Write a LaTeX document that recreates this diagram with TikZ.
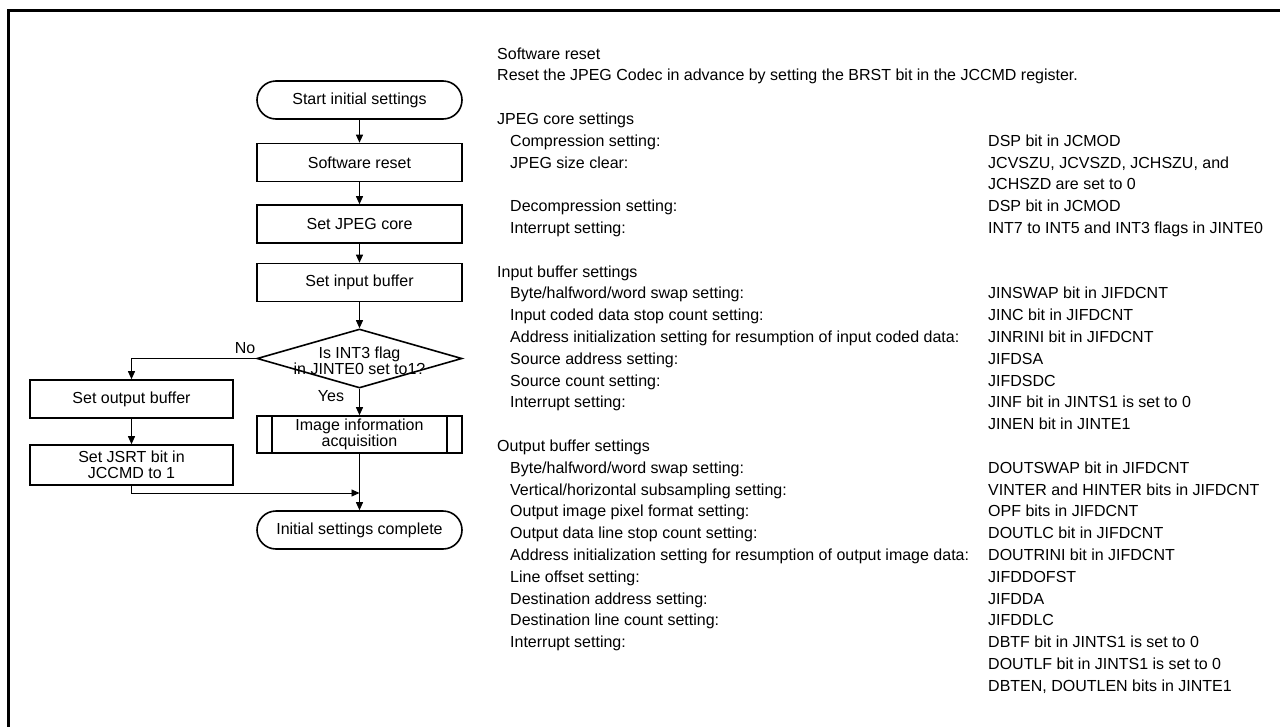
\documentclass[tikz,border=0pt]{standalone}
\usepackage{fontspec}
\setmainfont{Liberation Sans}
\usetikzlibrary{arrows.meta,shapes.geometric}
\begin{document}
\begin{tikzpicture}[x=1pt,y=-1pt,
  every node/.style={font=\fontsize{16}{16}\selectfont},
  box/.style={draw,line width=1.6pt,minimum width=205pt,minimum height=38pt,inner sep=0pt,align=center},
  sbox/.style={draw,line width=1.6pt,minimum width=203pt,minimum height=38pt,inner sep=0pt,align=center},
  term/.style={box,rounded corners=19pt},
  dia/.style={diamond,draw,line width=1.6pt,minimum width=205pt,minimum height=59pt,inner sep=0pt},
  conn/.style={line width=0.9pt},
  arr/.style={conn,-{Triangle[length=8pt,width=7pt]}},
  lt/.style={anchor=base west,inner sep=0pt},
  frame/.style={line width=3pt}]
\useasboundingbox (0,0) rectangle (1280,726);
\fill[white] (0,0) rectangle (1280,726);
% frame
\draw[frame] (8.5,728) -- (8.5,10.5) -- (1282,10.5);

% flowchart
\node[term] (start) at (359.5,100) {Start initial settings};
\node[box] (reset) at (359.5,162.5) {Software reset};
\node[box] (core) at (359.5,224) {Set JPEG core};
\node[box] (inbuf) at (359.5,282.5) {Set input buffer};
\node[dia] (dec) at (359.5,358.5) {};
\node[align=center,inner sep=0pt] (dectext) at (359.5,361) {Is INT3 flag\\in JINTE0 set to1?};
\node[inner sep=0pt] (no) at (245,348) {No};
\node[inner sep=0pt] (yes) at (331,396) {Yes};
\node[sbox] (outbuf) at (131.5,399) {Set output buffer};
\node[sbox,minimum height=40pt] (jsrt) at (131.5,465) {Set JSRT bit in\\JCCMD to 1};
\node[box,minimum height=37pt] (info) at (359.5,434.5) {Image information\\acquisition};
\draw[line width=1.6pt] ([xshift=16pt]info.north west) -- ([xshift=16pt]info.south west);
\draw[line width=1.6pt] ([xshift=-16pt]info.north east) -- ([xshift=-16pt]info.south east);
\node[term] (end) at (359.5,530) {Initial settings complete};
\coordinate (merge) at (359.5,493);

\draw[arr] (start) -- (reset);
\draw[arr] (reset) -- (core);
\draw[arr] (core) -- (inbuf);
\draw[arr] (inbuf) -- (dec.north);
\draw[arr] (dec.west) -| (outbuf.north);
\draw[arr] (outbuf) -- (jsrt);
\draw[arr] (dec.south) -- (info);
\draw[arr] (info) -- (end);
\draw[arr] (jsrt.south) |- (merge);

% text block
\def\hx{497}\def\ix{510}\def\rx{988}
\node[lt] (l0) at (\hx,59) {Software reset};
\node[lt] (l1) at (\hx,80.8) {Reset the JPEG Codec in advance by setting the BRST bit in the JCCMD register.};
\node[lt] (l3) at (\hx,124.4) {JPEG core settings};
\node[lt] (l4) at (\ix,146.2) {Compression setting:};
\node[lt] (r4) at (\rx,146.2) {DSP bit in JCMOD};
\node[lt] (l5) at (\ix,168) {JPEG size clear:};
\node[lt] (r5) at (\rx,168) {JCVSZU, JCVSZD, JCHSZU, and};
\node[lt] (r6) at (\rx,189.8) {JCHSZD are set to 0};
\node[lt] (l7) at (\ix,211.6) {Decompression setting:};
\node[lt] (r7) at (\rx,211.6) {DSP bit in JCMOD};
\node[lt] (l8) at (\ix,233.4) {Interrupt setting:};
\node[lt] (r8) at (\rx,233.4) {INT7 to INT5 and INT3 flags in JINTE0};
\node[lt] (l10) at (\hx,277) {Input buffer settings};
\node[lt] (l11) at (\ix,298.8) {Byte/halfword/word swap setting:};
\node[lt] (r11) at (\rx,298.8) {JINSWAP bit in JIFDCNT};
\node[lt] (l12) at (\ix,320.6) {Input coded data stop count setting:};
\node[lt] (r12) at (\rx,320.6) {JINC bit in JIFDCNT};
\node[lt] (l13) at (\ix,342.4) {Address initialization setting for resumption of input coded data:};
\node[lt] (r13) at (\rx,342.4) {JINRINI bit in JIFDCNT};
\node[lt] (l14) at (\ix,364.2) {Source address setting:};
\node[lt] (r14) at (\rx,364.2) {JIFDSA};
\node[lt] (l15) at (\ix,386) {Source count setting:};
\node[lt] (r15) at (\rx,386) {JIFDSDC};
\node[lt] (l16) at (\ix,407.8) {Interrupt setting:};
\node[lt] (r16) at (\rx,407.8) {JINF bit in JINTS1 is set to 0};
\node[lt] (r17) at (\rx,429.6) {JINEN bit in JINTE1};
\node[lt] (l18) at (\hx,451.4) {Output buffer settings};
\node[lt] (l19) at (\ix,473.2) {Byte/halfword/word swap setting:};
\node[lt] (r19) at (\rx,473.2) {DOUTSWAP bit in JIFDCNT};
\node[lt] (l20) at (\ix,495) {Vertical/horizontal subsampling setting:};
\node[lt] (r20) at (\rx,495) {VINTER and HINTER bits in JIFDCNT};
\node[lt] (l21) at (\ix,516.8) {Output image pixel format setting:};
\node[lt] (r21) at (\rx,516.8) {OPF bits in JIFDCNT};
\node[lt] (l22) at (\ix,538.6) {Output data line stop count setting:};
\node[lt] (r22) at (\rx,538.6) {DOUTLC bit in JIFDCNT};
\node[lt] (l23) at (\ix,560.4) {Address initialization setting for resumption of output image data:};
\node[lt] (r23) at (\rx,560.4) {DOUTRINI bit in JIFDCNT};
\node[lt] (l24) at (\ix,582.2) {Line offset setting:};
\node[lt] (r24) at (\rx,582.2) {JIFDDOFST};
\node[lt] (l25) at (\ix,604) {Destination address setting:};
\node[lt] (r25) at (\rx,604) {JIFDDA};
\node[lt] (l26) at (\ix,625.8) {Destination line count setting:};
\node[lt] (r26) at (\rx,625.8) {JIFDDLC};
\node[lt] (l27) at (\ix,647.6) {Interrupt setting:};
\node[lt] (r27) at (\rx,647.6) {DBTF bit in JINTS1 is set to 0};
\node[lt] (r28) at (\rx,669.4) {DOUTLF bit in JINTS1 is set to 0};
\node[lt] (r29) at (\rx,691.2) {DBTEN, DOUTLEN bits in JINTE1};
\end{tikzpicture}
\end{document}
